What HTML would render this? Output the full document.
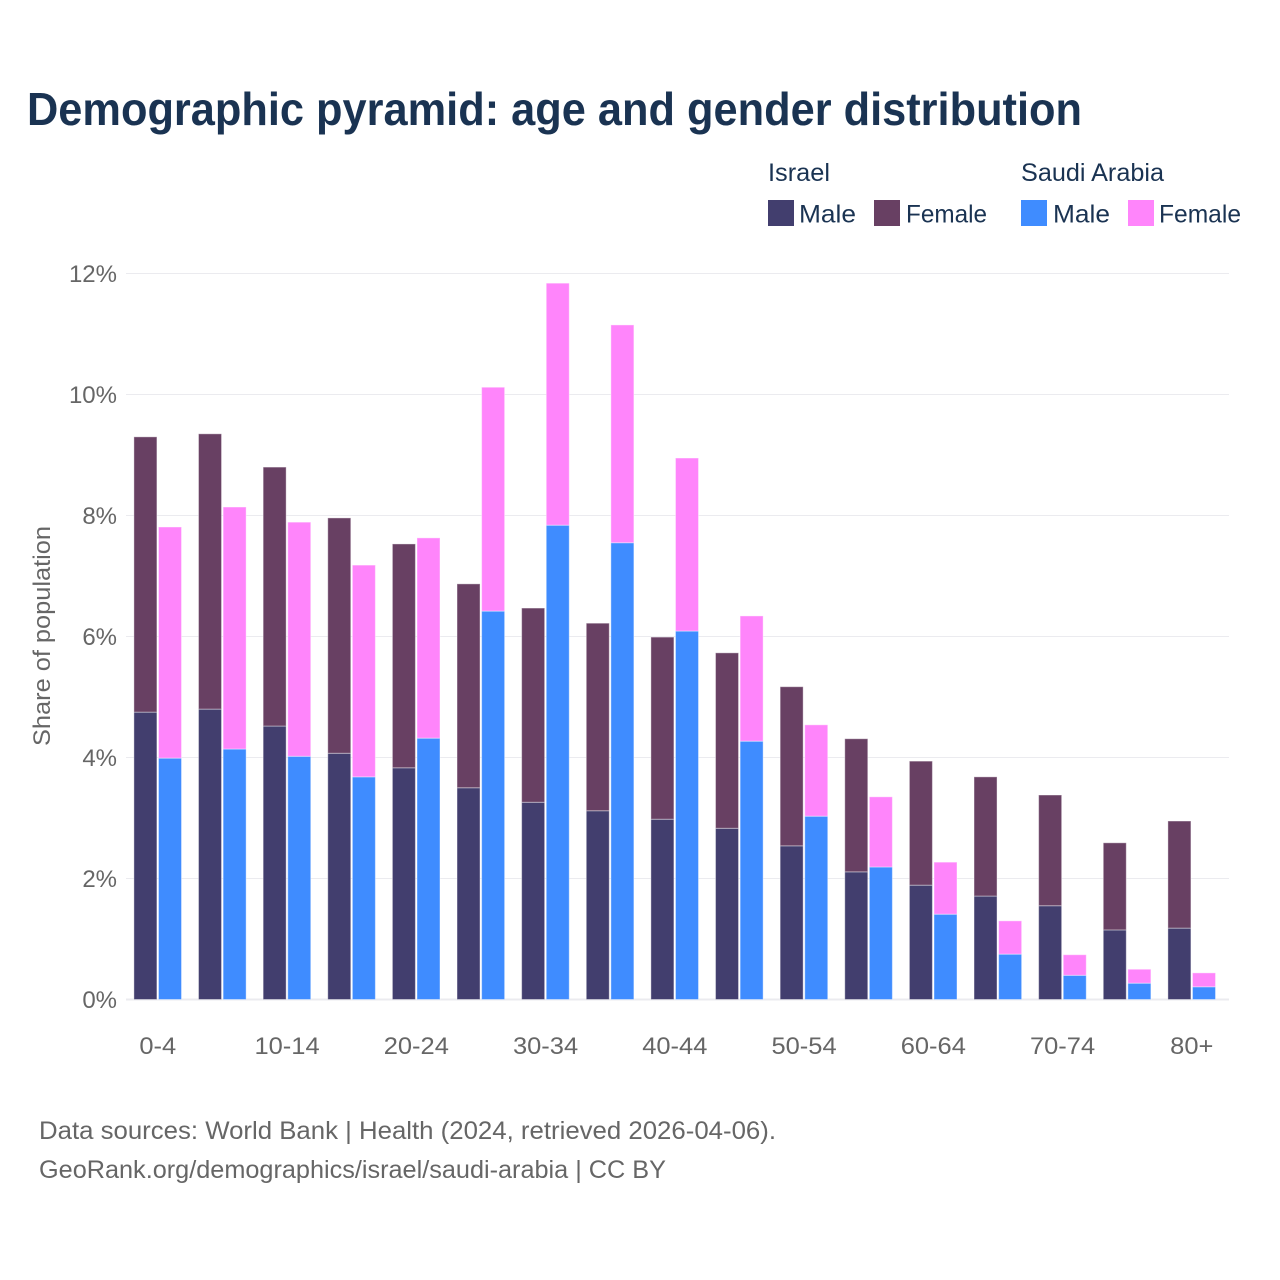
<!DOCTYPE html>
<html lang="en">
<head>
<meta charset="utf-8">
<title>Demographic pyramid: age and gender distribution</title>
<style>
html,body{margin:0;padding:0;background:#fff;}
svg{display:block;font-family:"Liberation Sans",sans-serif;}
</style>
</head>
<body>
<svg id="chart" xmlns="http://www.w3.org/2000/svg" width="1280" height="1280" viewBox="0 0 1280 1280">
  <rect x="0" y="0" width="1280" height="1280" fill="#ffffff"/>
  <text x="27" y="125" font-size="46" font-weight="700" fill="#1a3352" textLength="1055" lengthAdjust="spacingAndGlyphs">Demographic pyramid: age and gender distribution</text>

  <g font-size="25" fill="#1a3352">
    <text x="768" y="181" textLength="62" lengthAdjust="spacingAndGlyphs">Israel</text>
    <text x="1021" y="181" textLength="143" lengthAdjust="spacingAndGlyphs">Saudi Arabia</text>
    <rect x="768" y="200" width="26" height="26" fill="#423e6e"/>
    <text x="799" y="222.5" textLength="57" lengthAdjust="spacingAndGlyphs">Male</text>
    <rect x="874" y="200" width="26" height="26" fill="#684063"/>
    <text x="906" y="222.5" textLength="81" lengthAdjust="spacingAndGlyphs">Female</text>
    <rect x="1021" y="200" width="26" height="26" fill="#3f8cff"/>
    <text x="1053" y="222.5" textLength="57" lengthAdjust="spacingAndGlyphs">Male</text>
    <rect x="1128" y="200" width="26" height="26" fill="#ff85fb"/>
    <text x="1159" y="222.5" textLength="82" lengthAdjust="spacingAndGlyphs">Female</text>
  </g>

  <g id="grid"></g>
  <g id="bars"></g>
  <g id="y-ticks" font-size="24" fill="#666666" text-anchor="end"></g>
  <g id="x-ticks" font-size="24" fill="#666666" text-anchor="middle"></g>

  <text transform="translate(50,636) rotate(-90)" font-size="24" fill="#666666" text-anchor="middle" textLength="220" lengthAdjust="spacingAndGlyphs">Share of population</text>

  <text x="39" y="1139" font-size="25" fill="#666666" textLength="737" lengthAdjust="spacingAndGlyphs">Data sources: World Bank | Health (2024, retrieved 2026-04-06).</text>
  <text x="39" y="1178" font-size="25" fill="#666666" textLength="627" lengthAdjust="spacingAndGlyphs">GeoRank.org/demographics/israel/saudi-arabia | CC BY</text>
</svg>
<script>
const ageGroups = ["0-4","5-9","10-14","15-19","20-24","25-29","30-34","35-39","40-44","45-49","50-54","55-59","60-64","65-69","70-74","75-79","80+"];
const israelMale = [4.75,4.80,4.52,4.07,3.83,3.50,3.26,3.12,2.98,2.83,2.54,2.11,1.89,1.71,1.55,1.15,1.18];
const israelFemale = [4.55,4.55,4.28,3.89,3.70,3.37,3.21,3.10,3.01,2.90,2.63,2.20,2.05,1.97,1.83,1.44,1.77];
const saudiMale = [3.99,4.14,4.02,3.68,4.32,6.42,7.84,7.55,6.09,4.27,3.03,2.19,1.41,0.75,0.40,0.27,0.21];
const saudiFemale = [3.82,4.00,3.87,3.50,3.31,3.70,4.00,3.60,2.86,2.07,1.51,1.16,0.86,0.55,0.34,0.23,0.23];
const yTickValues = [0,2,4,6,8,10,12];
const xTickLabels = ["0-4","","10-14","","20-24","","30-34","","40-44","","50-54","","60-64","","70-74","","80+"];

const NS = "http://www.w3.org/2000/svg";
const yScale = v => 999.5 - v * 60.5;
const groupX = i => 133.9 + i * 64.625;
const BAR_W = 23;
const SAUDI_OFFSET = 24.6;

const gridG = document.getElementById("grid");
const yTicksG = document.getElementById("y-ticks");
yTickValues.forEach(v => {
  const line = document.createElementNS(NS, "line");
  
  
  line.setAttribute("x1", 126);
  line.setAttribute("x2", 1229);
  line.setAttribute("y1", yScale(v));
  line.setAttribute("y2", yScale(v));
  line.setAttribute("stroke", "#ebebef");
  line.setAttribute("stroke-width", v === 0 ? 2 : 1);
  gridG.appendChild(line);

  const t = document.createElementNS(NS, "text");
  
  
  t.setAttribute("x", 117);
  t.setAttribute("y", yScale(v) + 8.5);
  t.textContent = v + "%";
  yTicksG.appendChild(t);
});

const barsG = document.getElementById("bars");
function addBar(x, bottomVal, val, color) {
  const r = document.createElementNS(NS, "rect");
  
  
  r.setAttribute("x", x);
  r.setAttribute("width", BAR_W);
  r.setAttribute("y", yScale(bottomVal + val));
  r.setAttribute("height", yScale(bottomVal) - yScale(bottomVal + val));
  r.setAttribute("fill", color);
  r.setAttribute("stroke", "#ffffff");
  r.setAttribute("stroke-opacity", "0.4");
  r.setAttribute("stroke-width", "1");
  barsG.appendChild(r);
}
ageGroups.forEach((g, i) => {
  const x = groupX(i);
  addBar(x, 0, israelMale[i], "#423e6e");
  addBar(x, israelMale[i], israelFemale[i], "#684063");
  addBar(x + SAUDI_OFFSET, 0, saudiMale[i], "#3f8cff");
  addBar(x + SAUDI_OFFSET, saudiMale[i], saudiFemale[i], "#ff85fb");
});

const xTicksG = document.getElementById("x-ticks");
xTickLabels.forEach((label, i) => {
  if (!label) return;
  const t = document.createElementNS(NS, "text");
  
  
  t.setAttribute("x", groupX(i) + 23.9);
  t.setAttribute("y", 1054);
  t.textContent = label;
  xTicksG.appendChild(t);
  t.setAttribute("lengthAdjust", "spacingAndGlyphs");
  t.setAttribute("textLength", (t.getComputedTextLength() * 1.06).toFixed(1));
});
</script>
</body>
</html>
